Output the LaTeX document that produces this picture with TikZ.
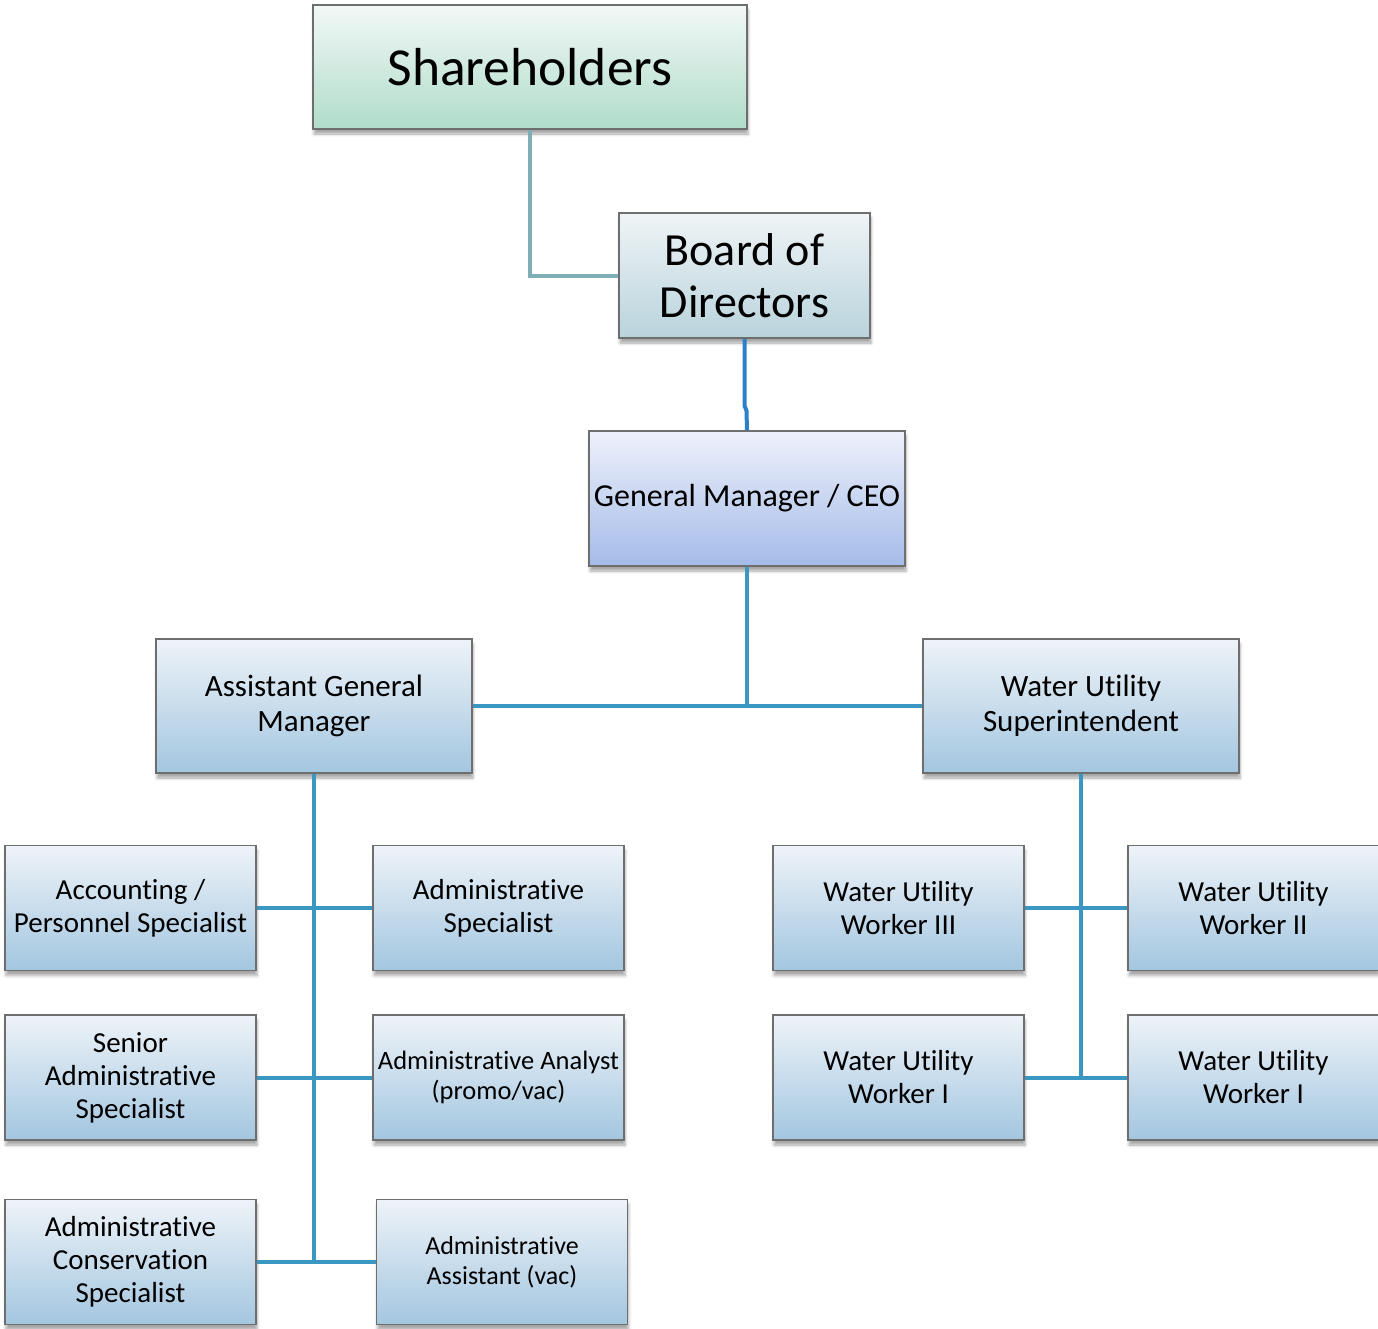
\documentclass[tikz,border=0pt]{standalone}
\usepackage{fontspec}
\setmainfont{Carlito}[RawFeature=-liga]
\usetikzlibrary{shadows.blur}

\definecolor{shtop}{HTML}{F2F8F6}
\definecolor{shbot}{HTML}{B0DCCB}
\definecolor{bdtop}{HTML}{EFF4F6}
\definecolor{bdbot}{HTML}{B9D3DC}
\definecolor{gmtop}{HTML}{EEF1FB}
\definecolor{gmbot}{HTML}{A4BBE8}
\definecolor{rltop}{HTML}{EEF3F8}
\definecolor{rlbot}{HTML}{A3C6E0}
\definecolor{shline}{HTML}{80AEB6}
\definecolor{bdline}{HTML}{2C80C8}
\definecolor{orgline}{HTML}{3B96C1}
\definecolor{boxedge}{HTML}{6E6E6E}

\begin{document}
\begin{tikzpicture}[x=1pt,y=-1pt]

\useasboundingbox (0,0) rectangle (1378,1328);

\tikzstyle{post} = [draw=boxedge, line width=1.5pt, align=center, inner sep=0pt,
  blur shadow={shadow xshift=1pt, shadow yshift=-5pt, shadow blur radius=3pt, shadow opacity=35},
  top color=rltop, bottom color=rlbot, minimum width=251pt, minimum height=125pt,
  font=\fontsize{29}{33}\selectfont]
\tikzstyle{wide} = [minimum width=316pt, minimum height=134pt, font=\fontsize{31}{35}\selectfont]
\tikzstyle{link} = [draw=orgline, line width=4pt]

%Top of the tree
\node[post, top color=shtop, bottom color=shbot, minimum width=434pt, minimum height=124pt,
  font=\fontsize{53.5}{60}\selectfont] (share) at (530,67) {Shareholders};
\node[post, top color=bdtop, bottom color=bdbot, font=\fontsize{46}{52}\selectfont] (board) at (744.5,275.5) {Board of\\Directors};
\node[post, wide, top color=gmtop, bottom color=gmbot, minimum height=135pt,
  font=\fontsize{32}{36}\selectfont] (gm) at (747,498.5) {General Manager / CEO};

% Second level
\node[post, wide] (agm) at (314,706) {Assistant General\\Manager};
\node[post, wide] (wus) at (1081,706) {Water Utility\\Superintendent};

% Admin side
\node[post] (acc) at (130.5,908) {Accounting /\\Personnel Specialist};
\node[post] (aspec) at (498.5,908) {Administrative\\Specialist};
\node[post] (senior) at (130.5,1077.5) {Senior\\Administrative\\Specialist};
\node[post, font=\fontsize{26.5}{30}\selectfont] (analyst) at (498.5,1077.5) {Administrative Analyst\\(promo/vac)};
\node[post, font=\fontsize{26}{30}\selectfont] (aasst) at (502,1262) {Administrative\\Assistant (vac)};
\node[post] (acons) at (130.5,1262) {Administrative\\Conservation\\Specialist};

% Water side
\node[post] (wu3) at (898.5,908) {Water Utility\\Worker III};
\node[post] (wu2) at (1253.5,908) {Water Utility\\Worker II};
\node[post] (wu1a) at (898.5,1077.5) {Water Utility\\Worker I};
\node[post] (wu1b) at (1253.5,1077.5) {Water Utility\\Worker I};

% Lines
\draw[draw=shline, line width=4pt] (share.south) |- (board.west);
\draw[draw=bdline, line width=4pt] (board.south) -- ++(0,67) -- ++(2,5) -- (gm.north);
\draw[link] (gm.south) -- (gm.south |- agm.east);
\draw[link] (agm.east) -- (wus.west);
\draw[link] (agm.south) -- (agm.south |- acons.east);
\foreach \from/\to in {acc/aspec, senior/analyst, acons/aasst}
  \draw[link] (\from.east) -- (\to.west);
\draw[link] (wus.south) -- (wus.south |- wu1a.east);
\foreach \from/\to in {wu3/wu2, wu1a/wu1b}
  \draw[link] (\from.east) -- (\to.west);

\end{tikzpicture}
\end{document}
